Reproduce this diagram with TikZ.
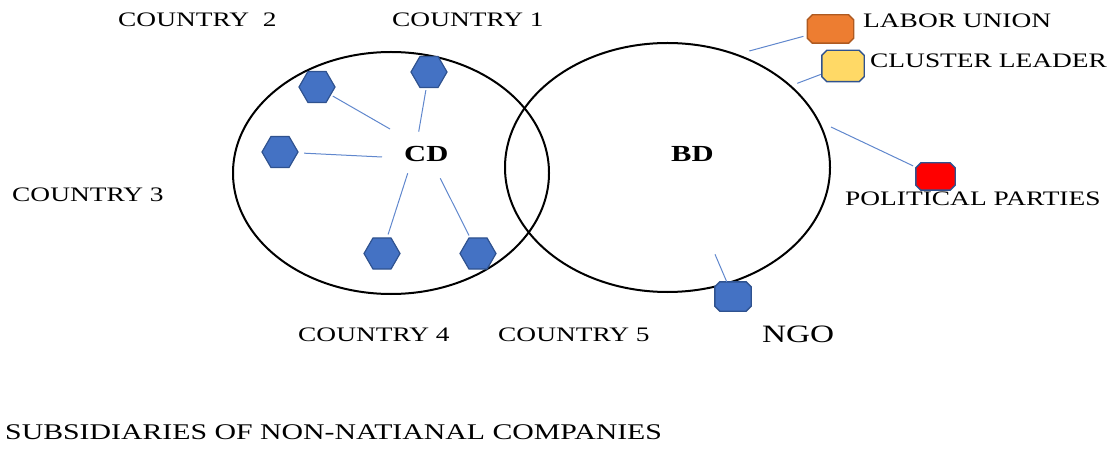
\documentclass[tikz,border=0pt]{standalone}
\usepackage{fontspec}
\setmainfont{Liberation Serif}[FakeStretch=1.33]
\usetikzlibrary{shapes.geometric}
\definecolor{hexblue}{HTML}{4472C4}
\definecolor{hexedge}{HTML}{2F528F}
\definecolor{unionfill}{HTML}{ED7D31}
\definecolor{unionedge}{HTML}{AE5A21}
\definecolor{leaderfill}{HTML}{FFD966}
\tikzset{
  hexnode/.style={regular polygon, regular polygon sides=6, minimum size=36pt,
    inner sep=0pt, fill=hexblue, draw=hexedge, line width=1.2pt},
  badge/.style={rectangle, inner sep=0pt},
  tieline/.style={draw=hexblue!85, line width=1pt},
  zonering/.style={ellipse, draw=black, line width=2pt, inner sep=0pt},
  captext/.style={anchor=base west, inner sep=0pt, font=\fontsize{20.6}{24}\selectfont},
  domaintext/.style={anchor=base west, inner sep=0pt, font=\fontsize{23}{27}\selectfont\bfseries},
}
% box with snipped corners drawn around a named node
\newcommand\snipframe[3]{%
  \draw[fill=#2, draw=#3, line width=1.4pt]
    ([xshift=5pt]#1.north west) -- ([xshift=-5pt]#1.north east)
    -- ([yshift=-5pt]#1.north east) -- ([yshift=5pt]#1.south east)
    -- ([xshift=-5pt]#1.south east) -- ([xshift=5pt]#1.south west)
    -- ([yshift=5pt]#1.south west) -- ([yshift=-5pt]#1.north west) -- cycle;}
\begin{document}
\begin{tikzpicture}[x=1pt,y=-1pt]
\useasboundingbox (0,0) rectangle (1113,454);

% the two domains
\node[zonering, minimum width=316pt, minimum height=242pt] (cdarea) at (391,173) {};
\node[zonering, minimum width=325pt, minimum height=249pt] (bdarea) at (667.5,167.5) {};

\node[domaintext] (cd) at (404,162) {CD};
\node[domaintext] (bd) at (671,162) {BD};

% subsidiaries inside CD
\node[hexnode] (h1) at (317,87) {};
\node[hexnode] (h2) at (429,72) {};
\node[hexnode] (h3) at (280,152) {};
\node[hexnode] (h4) at (382,253.5) {};
\node[hexnode] (h5) at (478,253.5) {};

\coordinate (e1) at (390,129);
\coordinate (e2) at (418.7,131.7);
\coordinate (e3) at (382,157);
\coordinate (s4) at (407.7,173.3);
\coordinate (s5) at (440.3,178.3);

\draw[tieline, shorten <=2pt] (h1) -- (e1);
\draw[tieline, shorten <=2pt] (h2) -- (e2);
\draw[tieline, shorten <=6pt] (h3) -- (e3);
\draw[tieline, shorten >=3pt] (s4) -- (h4);
\draw[tieline, shorten >=2pt] (s5) -- (h5);

% stakeholders around BD
\node[badge, minimum width=46pt, minimum height=28pt] (union) at (830.5,29) {};
\node[badge, minimum width=42pt, minimum height=31pt] (leader) at (843,66) {};
\node[badge, minimum width=39pt, minimum height=27pt] (parties) at (935.5,176.5) {};
\node[badge, minimum width=36pt, minimum height=29pt] (ngo) at (733,296.5) {};
\snipframe{union}{unionfill}{unionedge}
\snipframe{leader}{leaderfill}{hexedge}
\snipframe{parties}{red}{hexedge}
\snipframe{ngo}{hexblue}{hexedge}

\coordinate (b1) at (749.3,51);
\coordinate (b2) at (797.3,83.3);
\coordinate (b3) at (831,127);
\coordinate (b4) at (715,254.3);

\draw[tieline, shorten >=4pt] (b1) -- (union);
\draw[tieline, shorten >=1pt] (b2) -- (leader);
\draw[tieline, shorten >=3pt] (b3) -- (parties);
\draw[tieline] (b4) -- (ngo);

% labels
\node[captext] (c2) at (118,27) {COUNTRY\ \ 2};
\node[captext] (c1) at (392,27) {COUNTRY 1};
\node[captext] (c3) at (12,202) {COUNTRY 3};
\node[captext] (c4) at (298,341) {COUNTRY 4};
\node[captext] (c5) at (498,341) {COUNTRY 5};
\node[captext] (lu) at (863,28) {LABOR UNION};
\node[captext] (cl) at (870,68) {CLUSTER LEADER};
\node[captext] (pp) at (845,206) {POLITICAL PARTIES};
\node[anchor=base west, inner sep=0pt, font=\fontsize{25}{30}\selectfont] (ng) at (762,342) {NGO};
\node[anchor=base west, inner sep=0pt, font=\fontsize{22.4}{27}\selectfont] (sub) at (5,439) {SUBSIDIARIES OF NON-NATIANAL COMPANIES};
\end{tikzpicture}
\end{document}
